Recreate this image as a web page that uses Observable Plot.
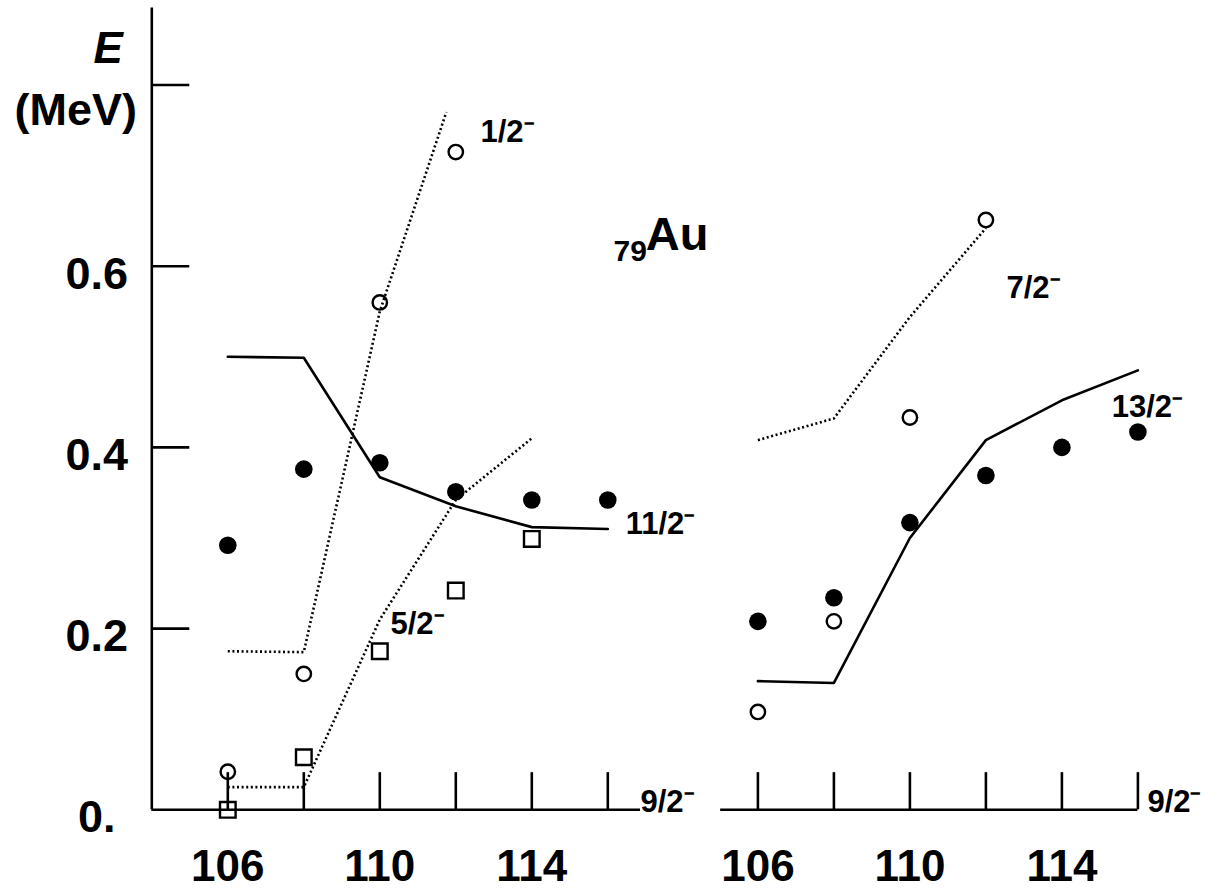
<!DOCTYPE html>
<html>
<head>
<meta charset="utf-8">
<script src="https://cdn.jsdelivr.net/npm/d3@7"></script>
<script src="https://cdn.jsdelivr.net/npm/@observablehq/plot@0.6"></script>
<style>
html, body { margin: 0; padding: 0; background: #fff; }
#chart svg { display: block; }
</style>
</head>
<body>
<div id="chart"></div>
<script>
// ---------------- data ----------------
// Neutron numbers
const nAll = [106, 108, 110, 112, 114, 116];
const nTo114 = [106, 108, 110, 112, 114];
const nTo112 = [106, 108, 110, 112];

// Left panel (11/2-, 1/2-, 5/2- relative to 9/2-)
const left_11_2_exp  = [0.292, 0.376, 0.383, 0.351, 0.342, 0.342];   // filled circles
const left_11_2_calc = [0.500, 0.499, 0.367, 0.335, 0.312, 0.310];   // solid line
const left_1_2_exp   = [0.042, 0.150, 0.560, 0.726];                 // open circles
const left_1_2_calcN = [106, 108, 110, 111.75];
const left_1_2_calc  = [0.175, 0.174, 0.550, 0.770];                 // dotted line
const left_5_2_exp   = [0.000, 0.058, 0.175, 0.242, 0.299];          // open squares
const left_5_2_calc  = [0.025, 0.025, 0.210, 0.342, 0.410];          // dotted line

// Right panel (13/2-, 7/2- relative to 9/2-)
const right_13_2_exp  = [0.208, 0.234, 0.317, 0.369, 0.400, 0.417]; // filled circles
const right_13_2_calc = [0.142, 0.140, 0.300, 0.408, 0.452, 0.485]; // solid line
const right_7_2_exp   = [0.108, 0.208, 0.433, 0.651];               // open circles
const right_7_2_calc  = [0.408, 0.432, 0.544, 0.642];               // dotted line

// Axis ticks / labels
const yTicks = [0.2, 0.4, 0.6, 0.8];
const yTickLabels = [[0, "0."], [0.2, "0.2"], [0.4, "0.4"], [0.6, "0.6"]];
const xTicks = [106, 108, 110, 112, 114, 116];
const xTickLabels = [106, 110, 114];

// Annotations: [panel, N, E, text]
const spinLabels = [
  ["L", 112.65, 0.748, "1/2\u207B"],
  ["L", 116.47, 0.3155, "11/2\u207B"],
  ["L", 110.28, 0.2045, "5/2\u207B"],
  ["L", 116.86, 0.0086, "9/2\u207B"],
  ["R", 112.54, 0.576, "7/2\u207B"],
  ["R", 115.31, 0.445, "13/2\u207B"],
  ["R", 116.25, 0.0086, "9/2\u207B"]
];

// ---------------- helpers ----------------
const PANEL_SHIFT = 13.95;   // horizontal offset of the right panel, in N units
const px = (panel, n) => n + (panel === "R" ? PANEL_SHIFT : 0);
const rows = (panel, ns, vs) => ns.map((n, i) => ({n, v: vs[i], X: px(panel, n)}));

const font = "'Liberation Sans', Arial, Helvetica, sans-serif";
const black = "#000";

const solidL = rows("L", nAll, left_11_2_calc);
const solidR = rows("R", nAll, right_13_2_calc);
const dotted = [
  rows("L", left_1_2_calcN, left_1_2_calc),
  rows("L", nTo114, left_5_2_calc),
  rows("R", nTo112, right_7_2_calc)
];
const filled = [...rows("L", nAll, left_11_2_exp), ...rows("R", nAll, right_13_2_exp)];
const openCircles = [...rows("L", nTo112, left_1_2_exp), ...rows("R", nTo112, right_7_2_exp)];
const squares = rows("L", nTo114, left_5_2_exp);

const xTickRows = [...xTicks.map(n => ({X: px("L", n)})), ...xTicks.map(n => ({X: px("R", n)}))];
const xLabelRows = [...xTickLabels.map(n => ({X: px("L", n), t: String(n)})), ...xTickLabels.map(n => ({X: px("R", n), t: String(n)}))];
const baselines = [
  {x1: px("L", 104), x2: px("L", 116.86)},
  {x1: px("R", 105.02), x2: px("R", 116)}
];
const labelRows = spinLabels.map(([p, n, e, t]) => ({X: px(p, n), v: e, t}));

const chart = Plot.plot({
  width: 1211,
  height: 892,
  marginTop: 0, marginRight: 0, marginBottom: 0, marginLeft: 0,
  style: {fontFamily: font, background: "#fff", color: black},
  x: {type: "linear", domain: [104, 130], range: [151.3, 1139.3], axis: null},
  y: {type: "linear", domain: [0, 0.8], range: [809.3, 84.5], axis: null},
  marks: [
    // y axis line and inward ticks
    Plot.ruleX([104], {y1: 0, y2: 0.885, stroke: black, strokeWidth: 2.6}),
    Plot.ruleY(yTicks, {y: d => d, x1: 104, x2: 105, stroke: black, strokeWidth: 2.6}),
    Plot.text(yTickLabels, {x: 104, y: d => d[0], text: d => d[1], dx: -55, dy: 8,
      textAnchor: "middle", fontSize: 45, fontWeight: "bold", fill: black}),
    // axis title
    Plot.text(["E"], {x: 102.85, y: 0.84, text: d => d, textAnchor: "middle",
      fontSize: 44, fontWeight: "bold", fontStyle: "italic", fill: black}),
    Plot.text(["(MeV)"], {x: 102.0, y: 0.772, text: d => d, textAnchor: "middle",
      fontSize: 45, fontWeight: "bold", fill: black}),
    // x baselines and ticks
    Plot.ruleY(baselines, {y: 0, x1: "x1", x2: "x2", stroke: black, strokeWidth: 2.6}),
    Plot.ruleX(xTickRows, {x: "X", y1: 0, y2: 0.041, stroke: black, strokeWidth: 2.6}),
    Plot.text(xLabelRows, {x: "X", y: 0, text: "t", dy: 57, textAnchor: "middle",
      fontSize: 44, fontWeight: "bold", fill: black}),
    // calculated levels
    Plot.line(solidL, {x: "X", y: "v", stroke: black, strokeWidth: 2.6}),
    Plot.line(solidR, {x: "X", y: "v", stroke: black, strokeWidth: 2.6}),
    ...dotted.map(d => Plot.line(d, {x: "X", y: "v", stroke: black, strokeWidth: 2.6,
      strokeDasharray: "2,2.6", strokeLinecap: "butt"})),
    // experimental levels
    Plot.dot(filled, {x: "X", y: "v", r: 8.8, fill: black, stroke: "none"}),
    Plot.dot(openCircles, {x: "X", y: "v", r: 7.2, fill: "none", stroke: black, strokeWidth: 2.4}),
    Plot.dot(squares, {x: "X", y: "v", r: 8.8, symbol: "square", fill: "none", stroke: black, strokeWidth: 2.4}),
    // spin labels
    Plot.text(labelRows, {x: "X", y: "v", text: "t", textAnchor: "start",
      fontSize: 31, fontWeight: "bold", fill: black}),
    // nucleus label 79Au
    Plot.text(["79"], {x: 116.15, y: 0.616, text: d => d, textAnchor: "start",
      fontSize: 30, fontWeight: "bold", fill: black}),
    Plot.text(["Au"], {x: 117.0, y: 0.634, text: d => d, textAnchor: "start",
      fontSize: 47, fontWeight: "bold", fill: black})
  ]
});
document.getElementById("chart").appendChild(chart);
</script>
</body>
</html>
